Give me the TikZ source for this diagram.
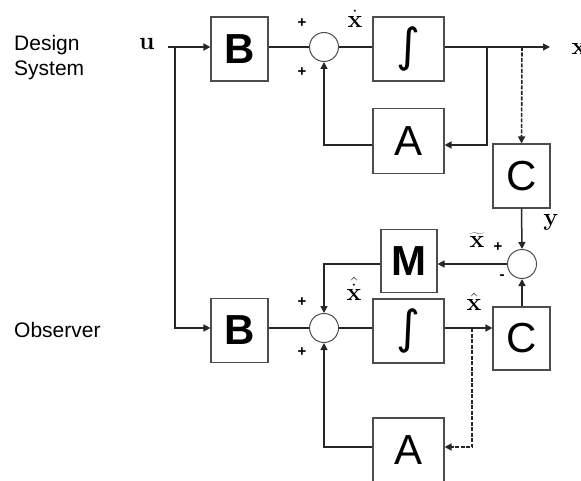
\documentclass[tikz,border=0pt]{standalone}
\usepackage[no-math]{fontspec}
\setmainfont{Liberation Sans}
\newfontfamily\intfont{DejaVu Sans}
\usetikzlibrary{arrows.meta}
\newcommand\myint{{\intfont\fontsize{46}{46}\selectfont\raisebox{2pt}{∫}}}
\begin{document}
\begin{tikzpicture}[x=1pt,y=-1pt,
  blk/.style={draw=black!70, line width=1.1pt, fill=white, minimum width=57pt,
    minimum height=64pt, inner sep=0pt, font=\fontsize{42}{42}\selectfont},
  sumc/.style={circle, draw=black!70, line width=1pt, minimum size=29pt, inner sep=0pt},
  conn/.style={line width=1.5pt, draw=black!85},
  arr/.style={conn, -{Triangle[length=7pt,width=7pt]}},
  dsh/.style={dash pattern=on 4pt off 1.5pt, line width=1.6pt},
  mlab/.style={inner sep=0pt, font=\fontsize{28}{28}\selectfont},
  pm/.style={inner sep=0pt, font=\fontsize{15}{15}\selectfont\bfseries},
  txt/.style={inner sep=0pt, font=\fontsize{21}{25}\selectfont, align=left}]
\useasboundingbox (0,0) rectangle (581,481);
% blocks
\node[blk] (B1) at (239.5,49) {\bfseries B};
\node[sumc] (S1) at (324,47) {};
\node[blk, minimum width=71pt] (I1) at (408.5,49) {\myint};
\node[blk, minimum width=71pt, minimum height=65pt] (A1) at (408.5,141) {A};
\node[blk] (C1) at (521.5,176) {C};
\node[sumc] (S2) at (522,264) {};
\node[blk, minimum width=56pt, minimum height=63pt] (M) at (409,261) {\bfseries M};
\node[blk] (B2) at (239.5,330.5) {\bfseries B};
\node[sumc] (S3) at (324,328) {};
\node[blk, minimum width=71pt] (I2) at (408.5,331) {\myint};
\node[blk, minimum height=63pt] (C2) at (521.5,338.5) {C};
\node[blk, minimum width=71pt] (A2) at (408.5,450) {A};
% texts
\node[txt, anchor=north west] (ds) at (14,35) {Design\\System};
\node[txt, anchor=base west] (ob) at (14,337) {Observer};
\node[mlab] (u) at (147,44) {$\mathbf{u}$};
\node[mlab] (xd) at (355,19) {$\dot{\mathbf{x}}$};
\node[mlab] (xo) at (579,49) {$\mathbf{x}$};
\node[mlab] (yl) at (551,222) {$\mathbf{y}$};
\node[mlab] (xt) at (477,240) {$\widetilde{\mathbf{x}}$};
\node[mlab] (xh) at (474,302) {$\hat{\mathbf{x}}$};
\node[mlab] (xhd) at (354,289) {$\hat{\dot{\mathbf{x}}}$};
\node[pm] (p1) at (302,23) {+};
\node[pm] (p2) at (302,72) {+};
\node[pm] (p3) at (302,302) {+};
\node[pm] (p4) at (302,352) {+};
\node[pm] (p5) at (498,247) {+};
\node[pm] (m5) at (502,277) {-};
% coordinates
\coordinate (uo) at (168,47);
\coordinate (ub) at (175,47);
\coordinate (xend) at (550,47);
\coordinate (br1) at (487,47);
\coordinate (a1in) at (487,145);
\coordinate (d1) at (522,47);
\coordinate (d2) at (472,328);
\coordinate (a2in) at (472,447);
% connectors
\draw[conn] (uo) -- (ub);
\draw[arr] (ub) -- (B1.west |- ub);
\draw[arr] (ub) |- (B2.west |- S3);
\draw[conn] (B1.east |- S1) -- (S1.west);
\draw[conn] (S1.east) -- (I1.west |- S1);
\draw[arr] (I1.east |- S1) -- (xend);
\draw[arr] (br1) -- (a1in) -- (A1.east |- a1in);
\draw[arr] (A1.west |- a1in) -| (S1.south);
\draw[arr, dsh] (d1) -- (C1.north);
\draw[arr] (C1.south) -- (S2.north);
\draw[arr] (S2.west) -- (S2 -| M.east);
\draw[arr] (S2 -| M.west) -| (S3.north);
\draw[conn] (B2.east |- S3) -- (S3.west);
\draw[conn] (S3.east) -- (I2.west |- S3);
\draw[arr] (I2.east |- S3) -- (C2.west |- S3);
\draw[arr] (C2.north -| S2) -- (S2.south);
\draw[arr, dsh] (d2) -- (a2in) -- (A2.east |- a2in);
\draw[arr] (A2.west |- a2in) -| (S3.south);
\end{tikzpicture}
\end{document}
